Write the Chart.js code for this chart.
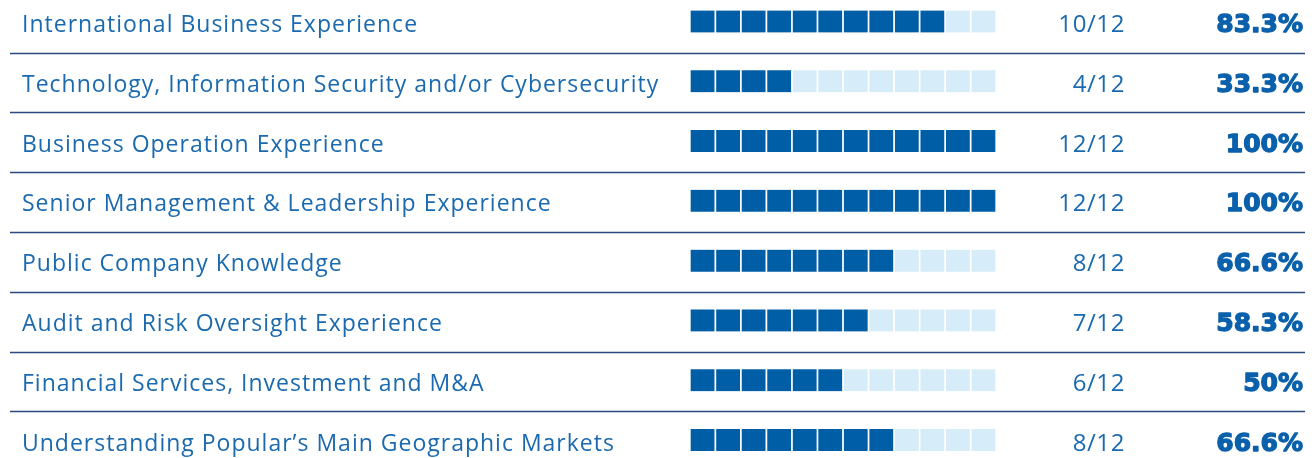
<!DOCTYPE html>
<html>
<head>
<meta charset="utf-8">
<script src="https://cdn.jsdelivr.net/npm/chart.js@4.4.0/dist/chart.umd.min.js"></script>
<style>
  html, body { margin: 0; padding: 0; background: #ffffff; }
  #wrap { width: 1316px; height: 458px; position: relative; }
</style>
</head>
<body>
<div id="wrap"><canvas id="c"></canvas></div>
<script>
// ---- data ----
const categories = [
  'International Business Experience',
  'Technology, Information Security and/or Cybersecurity',
  'Business Operation Experience',
  'Senior Management & Leadership Experience',
  'Public Company Knowledge',
  'Audit and Risk Oversight Experience',
  'Financial Services, Investment and M&A',
  'Understanding Popular\u2019s Main Geographic Markets'
];
const counts = [10, 4, 12, 12, 8, 7, 6, 8];
const totalMembers = 12;
const fractionLabels = ['10/12', '4/12', '12/12', '12/12', '8/12', '7/12', '6/12', '8/12'];
const percentLabels = ['83.3%', '33.3%', '100%', '100%', '66.6%', '58.3%', '50%', '66.6%'];

// ---- styles ----
const DARK = '#005ea6';
const LIGHT = '#d6ecf9';
const LABEL_COLOR = '#1b6aaf';
const PCT_COLOR = '#0a60ab';
const RULE_COLOR = '#284a7c';

const datasets = [];
for (let k = 0; k < totalMembers; k++) {
  datasets.push({
    label: 'member ' + (k + 1),
    data: categories.map(() => 1),
    backgroundColor: counts.map(c => (k < c ? DARK : LIGHT)),
    borderColor: '#ffffff',
    borderWidth: { left: 1.2, right: 1.2, top: 0, bottom: 0 },
    borderSkipped: false,
    barThickness: 22,
    clip: false
  });
}

const tablePlugin = {
  id: 'tableText',
  beforeDatasetsDraw(chart) {
    const ctx = chart.ctx;
    const y = chart.scales.y;
    ctx.save();
    ctx.strokeStyle = RULE_COLOR;
    ctx.lineWidth = 1.5;
    for (let i = 0; i < categories.length - 1; i++) {
      const yy = Math.round((y.getPixelForValue(i) + y.getPixelForValue(i + 1)) / 2 + 1.3) + 0.5;
      ctx.beginPath();
      ctx.moveTo(10, yy);
      ctx.lineTo(1305, yy);
      ctx.stroke();
    }
    ctx.restore();
  },
  afterDatasetsDraw(chart) {
    const ctx = chart.ctx;
    const y = chart.scales.y;
    ctx.save();
    ctx.textBaseline = 'alphabetic';
    categories.forEach((label, i) => {
      const cy = y.getPixelForValue(i);
      ctx.fillStyle = LABEL_COLOR;
      ctx.letterSpacing = '1px';
      ctx.font = '400 23px "Open Sans"';
      ctx.textAlign = 'left';
      ctx.fillText(label, 22, cy + 10.5);

      ctx.letterSpacing = '0.6px';
      ctx.font = '400 24px "Open Sans"';
      ctx.textAlign = 'right';
      ctx.fillText(fractionLabels[i], 1125, cy + 10.5);

      ctx.letterSpacing = '0px';
      ctx.fillStyle = PCT_COLOR;
      ctx.strokeStyle = PCT_COLOR;
      ctx.lineWidth = 1.3;
      ctx.lineJoin = 'round';
      ctx.font = '700 25px "DejaVu Sans"';
      ctx.textAlign = 'right';
      ctx.fillText(percentLabels[i], 1303, cy + 10.5);
      ctx.strokeText(percentLabels[i], 1303, cy + 10.5);
    });
    ctx.restore();
  }
};

new Chart(document.getElementById('c'), {
  type: 'bar',
  data: { labels: categories, datasets },
  options: {
    indexAxis: 'y',
    responsive: true,
    maintainAspectRatio: false,
    animation: false,
    layout: { padding: { left: 689.8, right: 319.8, top: 21.5, bottom: 18 } },
    plugins: { legend: { display: false }, tooltip: { enabled: false } },
    scales: {
      x: { stacked: true, min: 0, max: totalMembers, display: false },
      y: { stacked: true, offset: false, display: false }
    }
  },
  plugins: [tablePlugin]
});
</script>
</body>
</html>
